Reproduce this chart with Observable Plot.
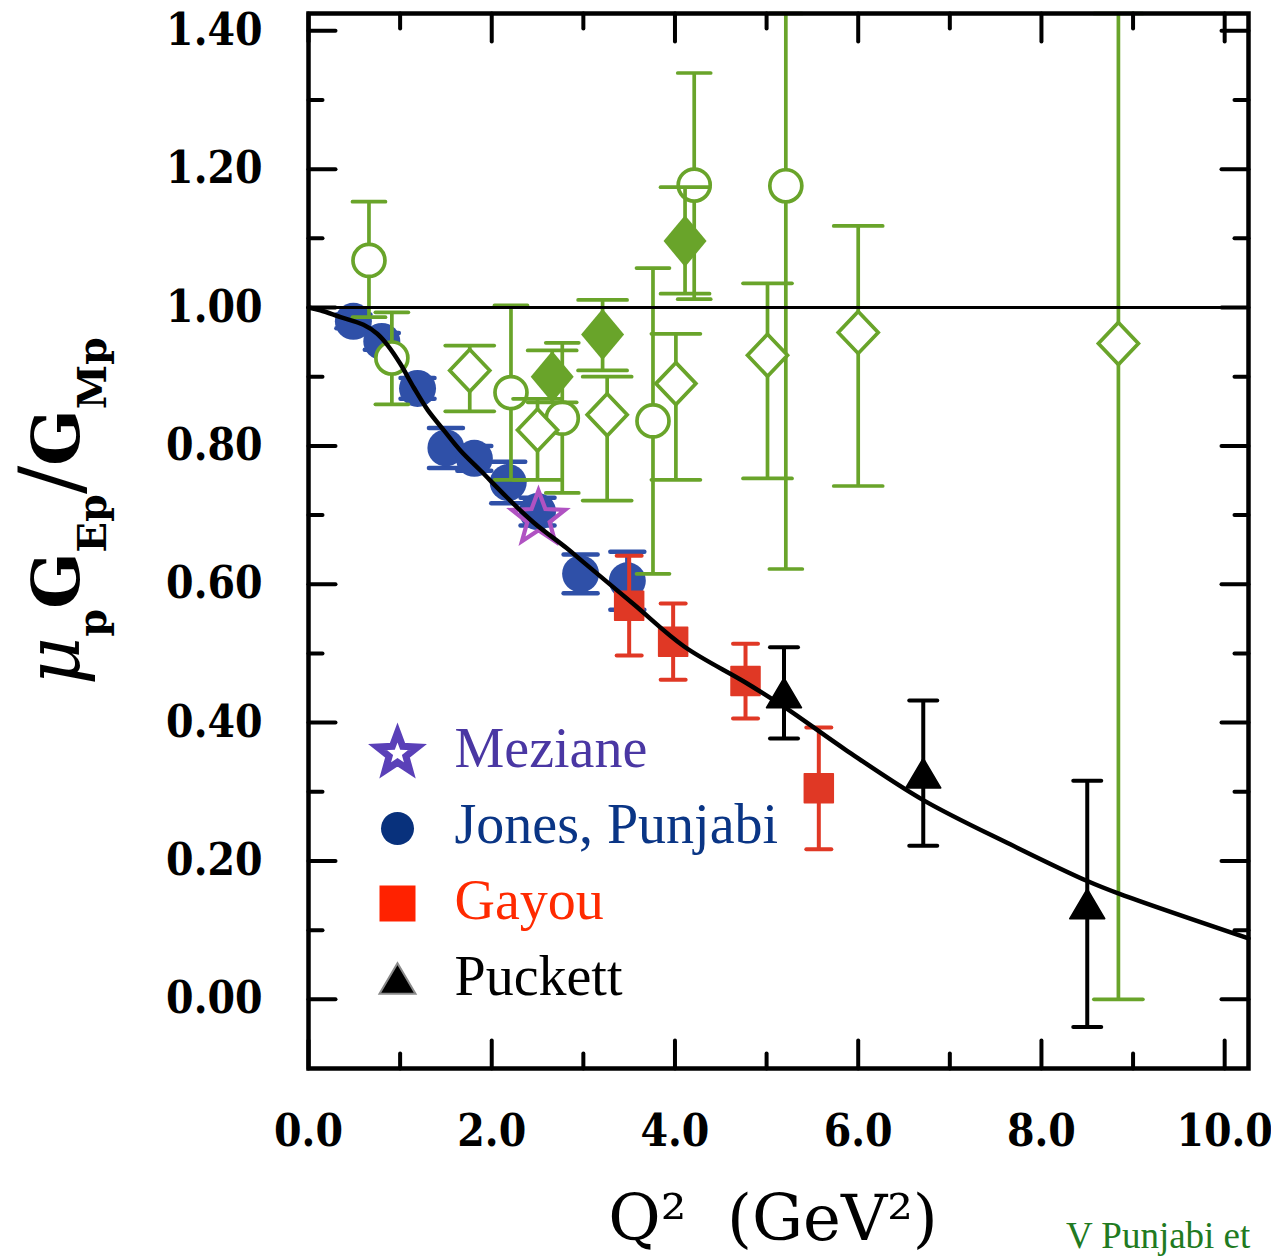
<!DOCTYPE html>
<html><head><meta charset="utf-8">
<script src="https://cdn.jsdelivr.net/npm/d3@7"></script>
<script src="https://cdn.jsdelivr.net/npm/@observablehq/plot@0.6"></script>
<style>
html,body{margin:0;padding:0;background:#fff;overflow:hidden;}
</style></head><body><div id="chart"></div>
<script>
// ---------- data ----------
const jonesQ2    = [0.49, 0.80, 1.19, 1.50, 1.81, 2.18, 2.50, 2.97, 3.48];
const jonesRatio = [0.980, 0.951, 0.883, 0.797, 0.782, 0.747, 0.705, 0.615, 0.605];
const jonesErr   = [0.010, 0.012, 0.015, 0.029, 0.018, 0.030, 0.020, 0.028, 0.042];

const gayouQ2    = [3.50, 3.98, 4.77, 5.57];
const gayouRatio = [0.569, 0.517, 0.460, 0.305];
const gayouErr   = [0.072, 0.055, 0.054, 0.088];

const puckettQ2    = [5.19, 6.71, 8.50];
const puckettRatio = [0.443, 0.327, 0.138];
const puckettErr   = [0.066, 0.105, 0.178];

const mezianeQ2    = [2.51];
const mezianeRatio = [0.695];

// Rosenbluth (green) sets
const rosCircleQ2    = [0.66, 0.91, 2.21, 2.77, 3.76, 4.21, 5.21];
const rosCircleRatio = [1.068, 0.927, 0.877, 0.840, 0.836, 1.177, 1.176];
const rosCircleLow   = [0.986, 0.860, 0.751, 0.732, 0.615, 1.012, 0.622];
const rosCircleHigh  = [1.153, 0.993, 1.003, 0.949, 1.057, 1.339, 1.730];

const rosDiamondQ2    = [1.76, 2.50, 3.26, 4.01, 5.01, 6.00, 8.84];
const rosDiamondRatio = [0.909, 0.823, 0.845, 0.890, 0.931, 0.964, 0.948];
const rosDiamondLow   = [0.850, 0.751, 0.721, 0.751, 0.753, 0.742, 0.000];
const rosDiamondHigh  = [0.945, 0.868, 0.900, 0.962, 1.035, 1.118, 1.896];

const rosFilledQ2    = [2.66, 3.21, 4.11];
const rosFilledRatio = [0.900, 0.961, 1.096];
const rosFilledLow   = [0.863, 0.909, 1.020];
const rosFilledHigh  = [0.938, 1.011, 1.174];

// fit curve
const fitQ2    = [0, 0.13, 0.35, 0.60, 0.75, 0.86, 1.00, 1.15, 1.30, 1.48, 1.66, 1.88, 2.17, 2.46, 2.82, 3.00, 3.55, 4.10, 4.77, 5.20, 5.87, 6.71, 7.66, 8.50, 8.86, 10.26];
const fitRatio = [1.000, 0.996, 0.986, 0.975, 0.962, 0.946, 0.919, 0.884, 0.852, 0.822, 0.793, 0.764, 0.725, 0.689, 0.652, 0.632, 0.571, 0.510, 0.458, 0.422, 0.360, 0.288, 0.224, 0.171, 0.152, 0.088];

const unityLine = [1.0];

const xMajorTicks = [0, 2, 4, 6, 8, 10];
const xMinorTicks = [1, 3, 5, 7, 9];
const yMajorTicks = [0, 0.2, 0.4, 0.6, 0.8, 1.0, 1.2, 1.4];
const yMinorTicks = [0.1, 0.3, 0.5, 0.7, 0.9, 1.1, 1.3];

const legendLabels  = ["Meziane", "Jones, Punjabi", "Gayou", "Puckett"];
const legendColors  = ["#4a37a3", "#0a3585", "#ff2a00", "#000000"];

// ---------- helpers ----------
const X_DOMAIN = [0, 10.26], Y_DOMAIN = [-0.10, 1.425];
const clampY = v => Math.max(Y_DOMAIN[0], Math.min(Y_DOMAIN[1], v));

const sym = (f) => ({draw(ctx, size) { f(ctx, Math.sqrt(size / Math.PI)); }});
const capSym = sym((c, w) => { c.moveTo(-w, 0); c.lineTo(w, 0); });
const diamondSym = (k) => sym((c, w) => { c.moveTo(0, -w * k); c.lineTo(w, 0); c.lineTo(0, w * k); c.lineTo(-w, 0); c.closePath(); });
const squareSym = sym((c, w) => { c.rect(-w, -w, 2 * w, 2 * w); });
const triSym = sym((c, w) => { const h = w * 0.85; c.moveTo(0, -h); c.lineTo(w, h); c.lineTo(-w, h); c.closePath(); });
const starSym = sym((c, R) => {
  const r = R * 0.42;
  for (let i = 0; i < 10; i++) {
    const a = -Math.PI / 2 + i * Math.PI / 5, rad = i % 2 ? r : R;
    const px = rad * Math.cos(a), py = rad * Math.sin(a);
    i ? c.lineTo(px, py) : c.moveTo(px, py);
  }
  c.closePath();
});
const tickRight = sym((c, L) => { c.moveTo(0, 0); c.lineTo(L, 0); });
const tickLeft  = sym((c, L) => { c.moveTo(0, 0); c.lineTo(-L, 0); });
const tickUp    = sym((c, L) => { c.moveTo(0, 0); c.lineTo(0, -L); });
const tickDown  = sym((c, L) => { c.moveTo(0, 0); c.lineTo(0, L); });

const sym3 = (q, v, e) => q.map((d, i) => ({q: d, v: v[i], lo: v[i] - e[i], hi: v[i] + e[i]}));
const asym = (q, v, lo, hi) => q.map((d, i) => ({q: d, v: v[i], lo: lo[i], hi: hi[i]}));

const jones = sym3(jonesQ2, jonesRatio, jonesErr);
const gayou = sym3(gayouQ2, gayouRatio, gayouErr);
const puckett = sym3(puckettQ2, puckettRatio, puckettErr);
const meziane = mezianeQ2.map((d, i) => ({q: d, v: mezianeRatio[i]}));
const rosCircle = asym(rosCircleQ2, rosCircleRatio, rosCircleLow, rosCircleHigh);
const rosDiamond = asym(rosDiamondQ2, rosDiamondRatio, rosDiamondLow, rosDiamondHigh);
const rosFilled = asym(rosFilledQ2, rosFilledRatio, rosFilledLow, rosFilledHigh);
const fit = fitQ2.map((d, i) => ({q: d, v: fitRatio[i]}));

function errBars(rows, color, capHalf, sw) {
  const common = {x: "q", stroke: color, strokeWidth: sw, fill: "none", strokeLinecap: "round", symbol: capSym, r: capHalf};
  return [
    Plot.ruleX(rows, {x: "q", y1: d => clampY(d.lo), y2: d => clampY(d.hi), stroke: color, strokeWidth: sw}),
    Plot.dot(rows, {...common, y: d => clampY(d.lo)}),
    Plot.dot(rows, {...common, y: d => clampY(d.hi)})
  ];
}

const GREEN = "#69a42a", BLUE = "#2f50a8", RED = "#e03825", STAR = "#b052c2";
const TICKFONT = "'DejaVu Serif Condensed', 'DejaVu Serif', serif";

const tickMarks = (vals, anchor, symbol, len) =>
  Plot.dot(vals, {[anchor === "left" || anchor === "right" ? "y" : "x"]: d => d, frameAnchor: anchor, symbol, r: len,
                  stroke: "black", strokeWidth: 4, fill: "none", strokeLinecap: "round"});

const legendMarks = [];
const legendSyms = [
  {symbol: starSym, r: 21, fill: "white", stroke: "#5a40b8", strokeWidth: 7},
  {symbol: "circle", r: 16.5, fill: "#08317c", stroke: "none"},
  {symbol: squareSym, r: 18, fill: "#ff2200", stroke: "none"},
  {symbol: triSym, r: 18, fill: "black", stroke: "#8a8a8a", strokeWidth: 2}
];
legendLabels.forEach((lab, i) => {
  legendMarks.push(Plot.dot([lab], {frameAnchor: "top-left", dx: 89, dy: 740 + i * 75, ...legendSyms[i]}));
  legendMarks.push(Plot.text([lab], {text: d => d, frameAnchor: "top-left", dx: 146, dy: 736 + i * 76,
    textAnchor: "start", lineAnchor: "middle", fontSize: 56, fontFamily: "'Liberation Serif', serif", fill: legendColors[i]}));
});

const svg = Plot.plot({
  width: 1271, height: 1257,
  marginLeft: 308, marginRight: 23, marginTop: 13, marginBottom: 189,
  x: {domain: X_DOMAIN},
  y: {domain: Y_DOMAIN},
  style: {fontFamily: TICKFONT, background: "white", overflow: "visible"},
  marks: [
    // Jones, Punjabi
    ...errBars(jones, BLUE, 17, 4.5),
    Plot.dot(jones, {x: "q", y: "v", r: 18.5, fill: BLUE, stroke: "none", symbol: "circle"}),
    // Rosenbluth data (green)
    ...errBars(rosCircle, GREEN, 16.5, 3.7),
    Plot.dot(rosCircle, {x: "q", y: "v", r: 16, symbol: "circle", fill: "white", stroke: GREEN, strokeWidth: 3.7}),
    ...errBars(rosDiamond, GREEN, 24.5, 3.7),
    Plot.dot(rosDiamond, {x: "q", y: "v", r: 20, symbol: diamondSym(1.05), fill: "white", stroke: GREEN, strokeWidth: 3.7}),
    ...errBars(rosFilled, GREEN, 24.5, 3.7),
    Plot.dot(rosFilled, {x: "q", y: "v", r: 21.5, symbol: diamondSym(1.2), fill: GREEN, stroke: "none"}),
    // Gayou
    ...errBars(gayou, RED, 12.5, 4),
    Plot.dot(gayou, {x: "q", y: "v", r: 14.5, symbol: squareSym, fill: RED, stroke: RED, strokeWidth: 1.5, strokeLinejoin: "round"}),
    // Puckett
    ...errBars(puckett, "black", 14, 4),
    Plot.dot(puckett, {x: "q", y: "v", r: 17.5, symbol: triSym, fill: "black", stroke: "black", strokeWidth: 1.5, strokeLinejoin: "round"}),
    // Meziane
    Plot.dot(meziane, {x: "q", y: "v", r: 28, symbol: starSym, fill: "none", stroke: STAR, strokeWidth: 4.2, strokeLinejoin: "miter"}),
    // unity line + fit
    Plot.ruleY(unityLine, {stroke: "black", strokeWidth: 3}),
    Plot.line(fit, {x: "q", y: "v", curve: "catmull-rom", stroke: "black", strokeWidth: 4.5}),
    // frame and inward ticks
    Plot.frame({stroke: "black", strokeWidth: 4.5}),
    tickMarks(yMajorTicks, "left", tickRight, 27),
    tickMarks(yMinorTicks, "left", tickRight, 14),
    tickMarks(yMajorTicks, "right", tickLeft, 27),
    tickMarks(yMinorTicks, "right", tickLeft, 14),
    tickMarks(xMajorTicks, "bottom", tickUp, 28),
    tickMarks(xMinorTicks, "bottom", tickUp, 15),
    tickMarks(xMajorTicks, "top", tickDown, 28),
    tickMarks(xMinorTicks, "top", tickDown, 15),
    Plot.axisY({ticks: yMajorTicks, tickSize: 0, tickPadding: 46, tickFormat: d3.format(".2f"), label: null,
                fontSize: 44, fontWeight: "bold", fontFamily: TICKFONT}),
    Plot.axisX({ticks: xMajorTicks, tickSize: 0, tickPadding: 46, tickFormat: d3.format(".1f"), label: null,
                fontSize: 44, fontWeight: "bold", fontFamily: TICKFONT}),
    ...legendMarks
  ]
});

document.getElementById("chart").appendChild(svg);
const s = d3.select(svg);

// y-axis label: mu_p G_Ep / G_Mp
const yl = s.append("text")
  .attr("transform", "translate(79,511) rotate(-90)")
  .attr("text-anchor", "middle")
  .attr("font-family", "'DejaVu Serif', serif")
  .attr("fill", "black");
yl.append("tspan").attr("font-style", "italic").attr("font-size", 74).text("μ");
yl.append("tspan").attr("font-weight", "bold").attr("font-size", 40).attr("dy", 27).text("p");
yl.append("tspan").attr("font-weight", "bold").attr("font-size", 66).attr("dy", -27).text("G");
yl.append("tspan").attr("font-weight", "bold").attr("font-size", 40).attr("dy", 27).text("Ep");
yl.append("tspan").attr("font-size", 84).attr("dy", -27).text("/");
yl.append("tspan").attr("font-weight", "bold").attr("font-size", 66).text("G");
yl.append("tspan").attr("font-weight", "bold").attr("font-size", 40).attr("dy", 27).text("Mp");

// x-axis label
s.append("text")
  .attr("x", 773).attr("y", 1240)
  .attr("text-anchor", "middle")
  .attr("font-family", "'DejaVu Serif', serif")
  .attr("font-size", 64)
  .attr("fill", "black")
  .attr("xml:space", "preserve")
  .style("white-space", "pre")
  .text("Q²  (GeV²)");

// source caption (at the bottom-right corner)
s.append("text")
  .attr("x", 1066).attr("y", 1248)
  .attr("text-anchor", "start")
  .attr("font-family", "'Liberation Serif', serif")
  .attr("font-size", 37)
  .attr("fill", "#217a21")
  .text("V Punjabi et");
</script></body></html>
